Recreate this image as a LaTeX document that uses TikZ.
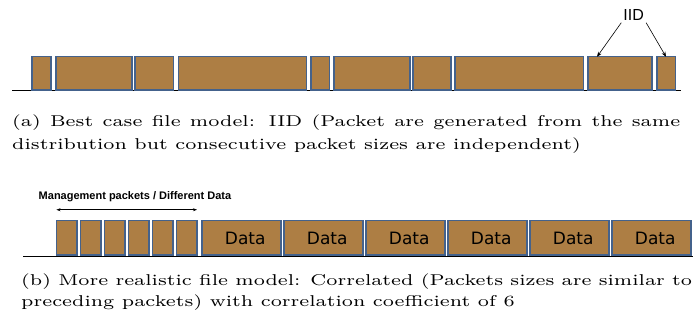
\documentclass[tikz,border=0pt]{standalone}
\usepackage{graphicx}
\usepackage{fontspec}
\usetikzlibrary{arrows.meta,positioning}
\newfontfamily\arialfont{Liberation Sans}
\newfontfamily\dejafont{DejaVu Sans}
\newfontfamily\capfont{lmroman7-regular.otf}
\definecolor{pktfill}{RGB}{173,126,68}
\definecolor{pktedge}{RGB}{68,98,140}
\tikzset{
  pkt/.style={draw=pktedge, fill=pktfill, line width=1.5pt, inner sep=0pt, outer sep=0pt, anchor=south west, minimum height=33.2pt},
  caption/.style={anchor=base west, inner sep=0pt},
  tip/.style={line width=0.6pt, -{Stealth[length=5pt,width=4pt]}},
}

\begin{document}
\begin{tikzpicture}[x=1pt,y=-1pt]
    \useasboundingbox (0,0) rectangle (696,320);
    % (a) IID
    \draw[line width=0.8pt] (12,90.7) -- (680.7,90.7); %time line
    \foreach \l/\r [count=\i] in {31.3/51.7, 55/132.7, 134.3/174.3, 177.7/307.3, 310/330.3, 333/410.7, 412.3/451.7, 454.3/584.3, 587.3/652.7, 656/676}
        \node[pkt, minimum width={(\r-\l-1.5)*1pt}] (p\i) at (\l+0.75,89.95) {};
    \node[font=\arialfont\fontsize{16}{16}\selectfont, inner sep=2pt] (iid) at (633.7,15) {IID};
    \draw[tip] (iid.south west) -- ([xshift=9pt]p9.north west);
    \draw[tip] (iid.south east) -- (p10.north);
    \node[caption] (capa) at (12,126.7) {\scalebox{2.8}[2.24]{\parbox[t]{238.6pt}{\capfont\fontsize{7}{10.13}\selectfont (a) Best case file model: IID (Packet are generated from the same\linebreak distribution but consecutive packet sizes are independent)}}};
    
    % (b) correlated
    \draw[line width=0.8pt] (23.3,256) -- (692.7,256); %time line
    \foreach \i in {1,...,6}
        \node[pkt, minimum width=20.5pt, minimum height=34.5pt] (m\i) at ({55.7+24*(\i-1)+0.75},255.25) {};
    \foreach \i in {1,...,6}
        \node[pkt, minimum width=79pt, minimum height=34.5pt, font=\dejafont\fontsize{17}{17}\selectfont] (d\i) at ({201+82*(\i-1)+0.75},255.25) {\hspace*{8pt}Data};
    \draw[line width=0.6pt, {Stealth[length=4pt,width=3pt]}-{Stealth[length=4pt,width=3pt]}] ([yshift=11pt]m1.north west) -- ([yshift=11pt]m6.north east);
    \node[font=\arialfont\bfseries\fontsize{11}{11}\selectfont] (mgmt) at (135,197) {Management packets / Different Data};
    \node[caption] (capb) at (21,285.8) {\scalebox{2.8}[2.24]{\parbox[t]{239.6pt}{\capfont\fontsize{7}{9.06}\selectfont (b) More realistic file model: Correlated (Packets sizes are similar to\linebreak preceding packets) with correlation coefficient of 6}}};
\end{tikzpicture}
\end{document}
